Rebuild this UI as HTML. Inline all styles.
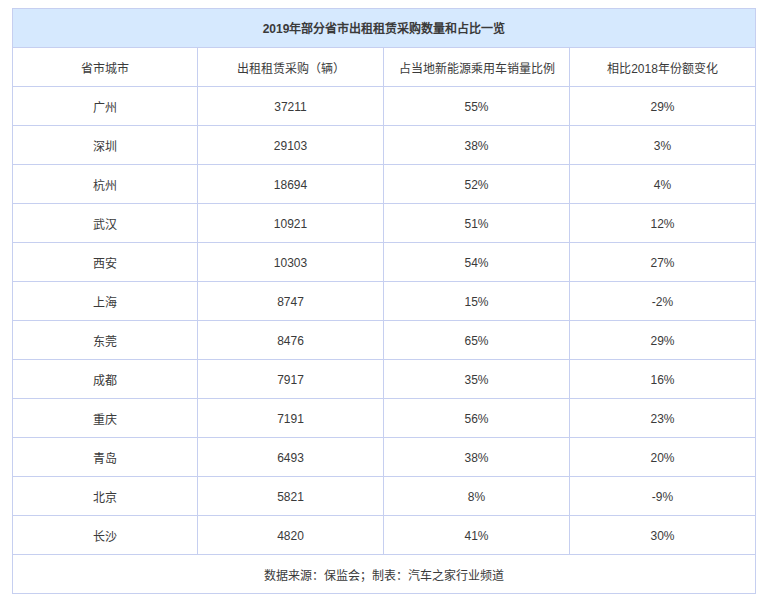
<!DOCTYPE html>
<html lang="zh-CN"><head><meta charset="utf-8">
<style>
html,body{margin:0;padding:0;background:#fff;}
body{width:773px;height:600px;overflow:hidden;position:relative;font-family:"Liberation Sans",sans-serif;}
table{position:absolute;left:12px;top:8px;border-collapse:collapse;table-layout:fixed;width:743px;}
td{border:1px solid #c6cff0;height:38px;padding:0;text-align:center;vertical-align:middle;font-size:12px;color:#3a3a3a;}
td span{position:relative;top:0;}
td span.n{top:1px;}
tr.t td span{top:-1px;}
tr.t td{background:#d6e9fe;font-weight:bold;}
</style></head><body>
<table>
<colgroup><col style="width:185px"><col style="width:186px"><col style="width:186px"><col style="width:186px"></colgroup>
<tr class="t"><td colspan="4"><span>2019年部分省市出租租赁采购数量和占比一览</span></td></tr>
<tr><td><span class="c">省市城市</span></td><td><span class="c">出租租赁采购（辆）</span></td><td><span class="c">占当地新能源乘用车销量比例</span></td><td><span class="c">相比2018年份额变化</span></td></tr>
<tr><td><span class="c">广州</span></td><td><span class="n">37211</span></td><td><span class="n">55%</span></td><td><span class="n">29%</span></td></tr>
<tr><td><span class="c">深圳</span></td><td><span class="n">29103</span></td><td><span class="n">38%</span></td><td><span class="n">3%</span></td></tr>
<tr><td><span class="c">杭州</span></td><td><span class="n">18694</span></td><td><span class="n">52%</span></td><td><span class="n">4%</span></td></tr>
<tr><td><span class="c">武汉</span></td><td><span class="n">10921</span></td><td><span class="n">51%</span></td><td><span class="n">12%</span></td></tr>
<tr><td><span class="c">西安</span></td><td><span class="n">10303</span></td><td><span class="n">54%</span></td><td><span class="n">27%</span></td></tr>
<tr><td><span class="c">上海</span></td><td><span class="n">8747</span></td><td><span class="n">15%</span></td><td><span class="n">-2%</span></td></tr>
<tr><td><span class="c">东莞</span></td><td><span class="n">8476</span></td><td><span class="n">65%</span></td><td><span class="n">29%</span></td></tr>
<tr><td><span class="c">成都</span></td><td><span class="n">7917</span></td><td><span class="n">35%</span></td><td><span class="n">16%</span></td></tr>
<tr><td><span class="c">重庆</span></td><td><span class="n">7191</span></td><td><span class="n">56%</span></td><td><span class="n">23%</span></td></tr>
<tr><td><span class="c">青岛</span></td><td><span class="n">6493</span></td><td><span class="n">38%</span></td><td><span class="n">20%</span></td></tr>
<tr><td><span class="c">北京</span></td><td><span class="n">5821</span></td><td><span class="n">8%</span></td><td><span class="n">-9%</span></td></tr>
<tr><td><span class="c">长沙</span></td><td><span class="n">4820</span></td><td><span class="n">41%</span></td><td><span class="n">30%</span></td></tr>
<tr><td colspan="4"><span>数据来源：保监会；制表：汽车之家行业频道</span></td></tr>
</table>
</body></html>
